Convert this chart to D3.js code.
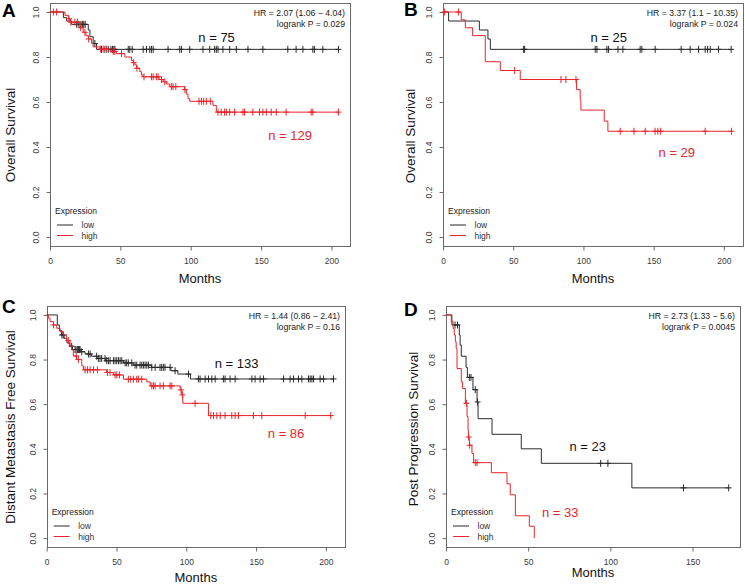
<!DOCTYPE html>
<html><head><meta charset="utf-8">
<script src="https://cdn.jsdelivr.net/npm/d3@7"></script>
<style>
body{margin:0;background:#fff}
svg{display:block}
text{font-family:"Liberation Sans",Arial,Helvetica,sans-serif}
</style>
</head><body>
<svg id="chart" width="745" height="584"></svg>
<script>
// ---------------- DATA ----------------
const panelLetters = ["A", "B", "C", "D"];
const yTitles = ["Overall Survival", "Overall Survival", "Distant Metastasis Free Survival", "Post Progression Survival"];
const hrLabels = ["HR = 2.07 (1.06 \u2212 4.04)", "HR = 3.37 (1.1 \u2212 10.35)", "HR = 1.44 (0.86 \u2212 2.41)", "HR = 2.73 (1.33 \u2212 5.6)"];
const pLabels = ["logrank P = 0.029", "logrank P = 0.024", "logrank P = 0.16", "logrank P = 0.0045"];
const nLow = [75, 25, 133, 23];
const nHigh = [129, 29, 86, 33];
const legendTitle = "Expression";
const groupNames = ["low", "high"];
const xAxisTitle = "Months";
const xTicksLong = [0, 50, 100, 150, 200];
const xTicksShort = [0, 50, 100, 150];
const yTicks = [0, 0.2, 0.4, 0.6, 0.8, 1.0];

// Panel A (Overall Survival, n=75 low / n=129 high)
const aLowTime = [9.5, 11.8, 15.4, 27.2, 28.4, 30.7, 33.1];
const aLowSurv = [0.975, 0.96, 0.945, 0.92, 0.89, 0.86, 0.834];
const aLowCens = [19, 20.5, 22, 23, 24, 25, 31.9, 36.6, 39, 41.4, 43.3, 44.4, 45.4, 46.1, 55.6, 56.7, 58.4, 66.2, 68.6, 70.9, 72.1, 73.3, 83.9, 92.2, 93.4, 99.3, 108.7, 113.5, 117, 118.2, 119.4, 122.9, 127.7, 132.4, 140.7, 151.3, 169, 174.9, 179.7, 186.8, 187.9, 193.9, 205];
const aHighTime = [10.6, 13, 14.2, 21.3, 23.6, 25.5, 27.2, 29.6, 30.7, 35.5, 42.6, 47.3, 53.2, 57.9, 59.1, 60.3, 61.5, 63.8, 65, 66.2, 77.5, 80.4, 82.7, 85.1, 95.7, 96.9, 98.1, 99.3, 115.8, 118.2];
const aHighSurv = [0.985, 0.97, 0.955, 0.93, 0.91, 0.895, 0.88, 0.86, 0.845, 0.835, 0.825, 0.815, 0.80, 0.785, 0.775, 0.765, 0.75, 0.735, 0.72, 0.712, 0.70, 0.69, 0.68, 0.668, 0.655, 0.635, 0.615, 0.603, 0.585, 0.555];
const aHighCens = [2.4, 4.7, 13.5, 14.8, 17.7, 19.5, 21.8, 24.8, 27.5, 36, 37.8, 40.2, 44.9, 46, 50.8, 59.5, 61.8, 66.8, 72.1, 73.3, 75.6, 76.8, 79.2, 81.6, 86.3, 87.5, 89.4, 95.9, 105.9, 107.6, 109.2, 111.1, 113.9, 119.4, 121.7, 124.1, 125.3, 127.7, 131.2, 137.1, 138.3, 144.2, 148.9, 151.3, 153.7, 157.2, 160.8, 167.8, 185.6, 186.8, 205];

// Panel B (Overall Survival, n=25 low / n=29 high)
const bLowTime = [4, 25.9, 32, 33.7];
const bLowSurv = [0.96, 0.92, 0.88, 0.834];
const bLowCens = [57.4, 58.1, 108.4, 109.6, 116.7, 117.9, 124.6, 128.1, 140.4, 141.6, 151.1, 169.6, 176, 182, 186.7, 188.4, 190.3, 196.2, 205.2];
const bHighTime = [13, 15.9, 21.1, 30.1, 40.8, 55, 95.1, 97.7, 98.2, 114.8, 117.4];
const bHighSurv = [0.965, 0.93, 0.895, 0.779, 0.74, 0.70, 0.655, 0.61, 0.564, 0.515, 0.47];
const bHighCens = [1.2, 11, 51, 84, 87.5, 94.7, 126.2, 136, 144, 151, 153, 155, 186.7, 205.4];

// Panel C (Distant Metastasis Free Survival, n=133 low / n=86 high)
const cLowTime = [7.6, 9.1, 10.8, 12.5, 14.5, 16.5, 18.5, 24, 27.5, 32, 36, 42, 55, 62, 75, 89, 94, 103];
const cLowSurv = [0.955, 0.93, 0.91, 0.895, 0.875, 0.86, 0.845, 0.835, 0.825, 0.815, 0.805, 0.795, 0.785, 0.775, 0.765, 0.75, 0.735, 0.713];
const cLowCens = [10.9, 11.9, 17.9, 20.3, 21, 22, 22.7, 23.4, 23.9, 25.1, 29.9, 31.1, 35.8, 37, 38.2, 39.4, 41.8, 43, 44.2, 45.4, 47.8, 49, 50.2, 51.4, 52.6, 53.8, 56.2, 57.3, 58.5, 60.9, 63.3, 64.5, 66.9, 68.1, 69.3, 70.5, 71.7, 72.9, 75.3, 77.7, 81.2, 82.4, 83.6, 84.8, 88.4, 92, 101.6, 108.7, 109.9, 113.5, 115.9, 118.3, 120.7, 126.6, 127.8, 131.4, 135, 147, 149.3, 152.9, 155.3, 169.7, 174.4, 176.8, 180.4, 182.8, 187.6, 188.8, 190, 191.2, 195.9, 198.3, 205.5];
const cHighTime = [1.2, 2.4, 4.8, 7.2, 9.6, 11.9, 14.3, 16.7, 17.9, 19.1, 21.5, 25.1, 26.3, 43, 47.8, 55, 71.7, 74.1, 95.6, 96.8, 97.5, 115.9];
const cHighSurv = [0.985, 0.97, 0.955, 0.94, 0.925, 0.91, 0.885, 0.861, 0.843, 0.816, 0.80, 0.772, 0.754, 0.742, 0.731, 0.712, 0.70, 0.682, 0.664, 0.642, 0.604, 0.549];
const cHighCens = [4.9, 15.5, 21.2, 22.7, 27.5, 29.2, 31.1, 33.5, 36.3, 43.5, 45.4, 49, 50.2, 52.1, 58.5, 60.2, 62.1, 64.5, 65.7, 68.1, 75.3, 76.5, 77.7, 81.2, 83.6, 88.4, 89.6, 96.2, 97.2, 106.3, 117.6, 119.5, 121.9, 124.3, 127.8, 132.6, 135, 137.4, 148.1, 154.1, 185.2, 203.5];

// Panel D (Post Progression Survival, n=23 low / n=33 high)
const dLowTime = [3.6, 8.1, 8.6, 9.3, 12.2, 13, 16.4, 18.9, 19.5, 28, 45.8, 58, 113.1];
const dLowSurv = [0.955, 0.91, 0.865, 0.815, 0.765, 0.72, 0.665, 0.61, 0.535, 0.465, 0.40, 0.335, 0.225];
const dLowCens = [5.5, 7, 14.2, 15.2, 17.8, 19.2, 94.1, 98.5, 144.5, 172];
const dHighTime = [3.2, 4.3, 5, 5.7, 6.2, 6.7, 9.3, 10.1, 11.8, 12.8, 13.4, 13.6, 14.2, 15.8, 16.8, 27.6, 37.1, 39.1, 42.2, 50.7, 53.7];
const dHighSurv = [0.97, 0.94, 0.91, 0.88, 0.85, 0.76, 0.70, 0.67, 0.604, 0.545, 0.485, 0.453, 0.416, 0.379, 0.338, 0.293, 0.243, 0.194, 0.10, 0.053, 0];
const dHighCens = [12.4, 13.8, 14.4, 17.8, 18.9];

// ---------------- LAYOUT ----------------
const layout = [
  {l: 50, r: 350, t: 3, b: 246, titleX: 15, titleY: 135, monthsY: 283, letterX: 2, letterY: 17, xt: xTicksLong, nLowAt: [118.4, 0.868], nHighAt: [170.6, 0.431]},
  {l: 443, r: 743, t: 3, b: 246, titleX: 415, titleY: 136, monthsY: 283, letterX: 404, letterY: 16, xt: xTicksLong, nLowAt: [118, 0.867], nHighAt: [166.5, 0.356]},
  {l: 46.7, r: 345, t: 306, b: 547, titleX: 15, titleY: 427, monthsY: 582, letterX: 2, letterY: 313, xt: xTicksLong, nLowAt: [136, 0.762], nHighAt: [171.5, 0.448]},
  {l: 446, r: 740, t: 306, b: 547, titleX: 418, titleY: 429, monthsY: 577, letterX: 404, letterY: 316, xt: xTicksShort, nLowAt: [86.2, 0.39], nHighAt: [69.5, 0.094]}
];
const curves = [
  {low: [aLowTime, aLowSurv, aLowCens], high: [aHighTime, aHighSurv, aHighCens]},
  {low: [bLowTime, bLowSurv, bLowCens], high: [bHighTime, bHighSurv, bHighCens]},
  {low: [cLowTime, cLowSurv, cLowCens], high: [cHighTime, cHighSurv, cHighCens]},
  {low: [dLowTime, dLowSurv, dLowCens], high: [dHighTime, dHighSurv, dHighCens]}
];
const colLow = "#2b2b2b", colHigh = "#e8262b", colBox = "#6a6a6a", colTick = "#3a3a3a";

// ---------------- DRAW ----------------
const svg = d3.select("#chart");
svg.append("rect").attr("width", 745).attr("height", 584).attr("fill", "#fff");

function survAt(times, survs, t) {
  let s = 1;
  for (let i = 0; i < times.length; i++) if (times[i] <= t) s = survs[i];
  return s;
}

layout.forEach((L, i) => {
  const C = curves[i];
  const maxT = d3.max([...C.low[0], ...C.low[2], ...C.high[0], ...C.high[2]]);
  const x = d3.scaleLinear().domain([0, maxT * 1.04]).range([L.l, L.r]);
  const y = d3.scaleLinear().domain([-0.04, 1.04]).range([L.b, L.t]);
  const g = svg.append("g");

  // box
  g.append("rect").attr("x", Math.round(L.l) + 0.5).attr("y", Math.round(L.t) + 0.5)
    .attr("width", Math.round(L.r - L.l)).attr("height", Math.round(L.b - L.t))
    .attr("fill", "none").attr("stroke", colBox).attr("stroke-width", 1);

  // x axis
  const xa = g.append("g").attr("transform", `translate(0,${Math.round(L.b) + 0.5})`)
    .call(d3.axisBottom(x).tickValues(L.xt).tickSize(4).tickPadding(7).tickFormat(d3.format("d")));
  xa.select(".domain").remove();
  xa.selectAll("line").attr("stroke", colBox);
  xa.selectAll("text").attr("font-size", 8.5).attr("fill", colTick).attr("font-family", null);

  // y axis
  const ya = g.append("g").attr("transform", `translate(${Math.round(L.l) + 0.5},0)`)
    .call(d3.axisLeft(y).tickValues(yTicks).tickSize(4).tickFormat(d3.format(".1f")));
  ya.select(".domain").remove();
  ya.selectAll("line").attr("stroke", colBox);
  ya.selectAll("text").attr("font-size", 8.5).attr("fill", colTick).attr("font-family", null)
    .attr("x", null).attr("dy", null).attr("text-anchor", "middle")
    .attr("transform", "translate(-12,0) rotate(-90)");

  // curves
  const line = d3.line().x(d => x(d[0])).y(d => y(d[1])).curve(d3.curveStepAfter);
  [["low", colLow], ["high", colHigh]].forEach(([k, col]) => {
    const [times, survs, cens] = C[k];
    const pts = [[0, 1]].concat(times.map((t, j) => [t, survs[j]]));
    const lastT = d3.max(cens.concat(times));
    if (lastT > times[times.length - 1]) pts.push([lastT, survs[survs.length - 1]]);
    g.append("path").attr("d", line(pts)).attr("fill", "none").attr("stroke", col).attr("stroke-width", 1);
    g.append("path").attr("fill", "none").attr("stroke", col).attr("stroke-width", 1)
      .attr("d", cens.map(c => {
        const cx = x(c), cy = y(survAt(times, survs, c));
        return `M${cx - 3},${cy}h6M${cx},${cy - 3.5}v7`;
      }).join(""));
  });

  // HR / logrank
  g.append("text").attr("x", L.r - 5).attr("y", L.t + 13).attr("text-anchor", "end")
    .attr("font-size", 8.7).attr("fill", "#222").text(hrLabels[i]);
  g.append("text").attr("x", L.r - 5).attr("y", L.t + 23.5).attr("text-anchor", "end")
    .attr("font-size", 8.7).attr("fill", "#222").text(pLabels[i]);

  // n labels
  g.append("text").attr("x", x(L.nLowAt[0])).attr("y", y(L.nLowAt[1])).attr("text-anchor", "middle")
    .attr("font-size", 13).attr("fill", "#111").text("n = " + nLow[i]);
  g.append("text").attr("x", x(L.nHighAt[0])).attr("y", y(L.nHighAt[1])).attr("text-anchor", "middle")
    .attr("font-size", 13).attr("fill", colHigh).text("n = " + nHigh[i]);

  // legend
  g.append("text").attr("x", L.l + 5).attr("y", L.b - 32).attr("font-size", 8.5).attr("fill", "#222").text(legendTitle);
  [[colLow, -21, -18], [colHigh, -10.5, -7.5]].forEach(([col, ly, ty], j) => {
    g.append("line").attr("x1", L.l + 7).attr("x2", L.l + 23).attr("y1", L.b + ly).attr("y2", L.b + ly)
      .attr("stroke", col).attr("stroke-width", 1);
    g.append("text").attr("x", L.l + 31.5).attr("y", L.b + ty).attr("font-size", 8.5).attr("fill", "#333").text(groupNames[j]);
  });

  // axis titles
  g.append("text").attr("x", (L.l + L.r) / 2).attr("y", L.monthsY).attr("text-anchor", "middle")
    .attr("font-size", 13).attr("fill", "#111").text(xAxisTitle);
  g.append("text").attr("transform", `translate(${L.titleX},${L.titleY}) rotate(-90)`).attr("text-anchor", "middle")
    .attr("font-size", 13.5).attr("fill", "#111").text(yTitles[i]);

  // panel letter
  g.append("text").attr("x", L.letterX).attr("y", L.letterY).attr("font-size", 19).attr("font-weight", "bold")
    .attr("fill", "#000").text(panelLetters[i]);
});
</script>
</body></html>
